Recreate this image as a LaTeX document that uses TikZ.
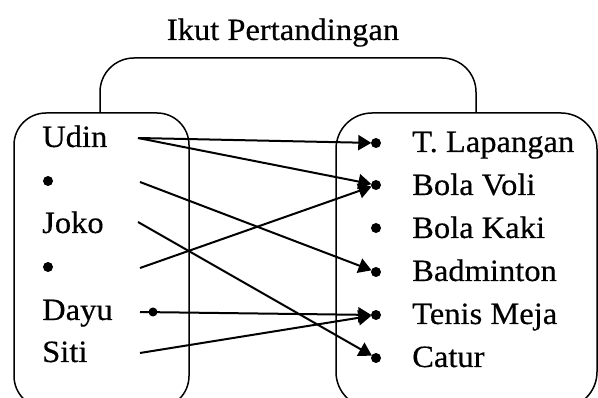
\documentclass[tikz,border=0pt]{standalone}
\usepackage{fontspec}
\setmainfont{Liberation Serif}[FakeStretch=1.05,FakeBold=0.4]
\usetikzlibrary{arrows.meta}
\tikzset{
  lbl/.style={anchor=base west, inner sep=0pt, font=\fontsize{31}{31}\selectfont},
  ttl/.style={anchor=base, inner sep=0pt, font=\fontsize{31}{31}\selectfont},
  dotnode/.style={circle, fill=black, inner sep=0pt, minimum size=10pt},
  boxline/.style={line width=1.5pt},
  conn/.style={line width=2pt, -{Triangle[length=13pt,width=15pt]}, shorten >=-0.5pt},
}
\begin{document}
\begin{tikzpicture}[x=1pt,y=-1pt]
\useasboundingbox (0,0) rectangle (598,398);
\begin{scope}
\clip (0,0) rectangle (598,398);
% title and bracket
\node[ttl] (title) at (283,40) {Ikut Pertandingan};
\draw[boxline, rounded corners=34pt] (100,113) -- (100,58) -- (476,58) -- (476,113);
% boxes
\draw[boxline, rounded corners=32pt] (14,113) rectangle (189,408);
\draw[boxline, rounded corners=36pt] (336,113) rectangle (597,408);
\end{scope}
% left items
\node[lbl] (udin) at (42,147) {Udin};
\node[dotnode] (b1) at (48,181) {};
\node[lbl] (joko) at (42,233) {Joko};
\node[dotnode] (b2) at (48,267) {};
\node[lbl] (dayu) at (42,320) {Dayu};
\node[lbl] (siti) at (42,362) {Siti};
% right items
\node[dotnode] (tl) at (376,143) {};
\node[dotnode] (bv) at (376,185) {};
\node[dotnode] (bk) at (376,228) {};
\node[dotnode] (bd) at (376,272) {};
\node[dotnode] (tm) at (376,315) {};
\node[dotnode] (ct) at (376,358) {};
\node[lbl] (ltl) at (412,152) {T. Lapangan};
\node[lbl] (lbv) at (412,195) {Bola Voli};
\node[lbl] (lbk) at (412,238) {Bola Kaki};
\node[lbl] (lbd) at (412,281) {Badminton};
\node[lbl] (ltm) at (412,324) {Tenis Meja};
\node[lbl] (lct) at (412,367) {Catur};
% start points
\coordinate (su) at (138,138);
\coordinate (s1) at (140,182);
\coordinate (sj) at (138,222);
\coordinate (s2) at (140,268);
\coordinate (sd) at (140,312);
\coordinate (ss) at (140,353);
\node[dotnode, minimum size=9pt] (dd) at (153,312) {};
% connectors
\draw[conn] (su) -- (tl);
\draw[conn] (su) -- (bv);
\draw[conn] (s1) -- (bd);
\draw[conn] (sj) -- (ct);
\draw[conn] (s2) -- (bv);
\draw[conn] (sd) -- (tm);
\draw[conn] (ss) -- (tm);
\end{tikzpicture}
\end{document}
